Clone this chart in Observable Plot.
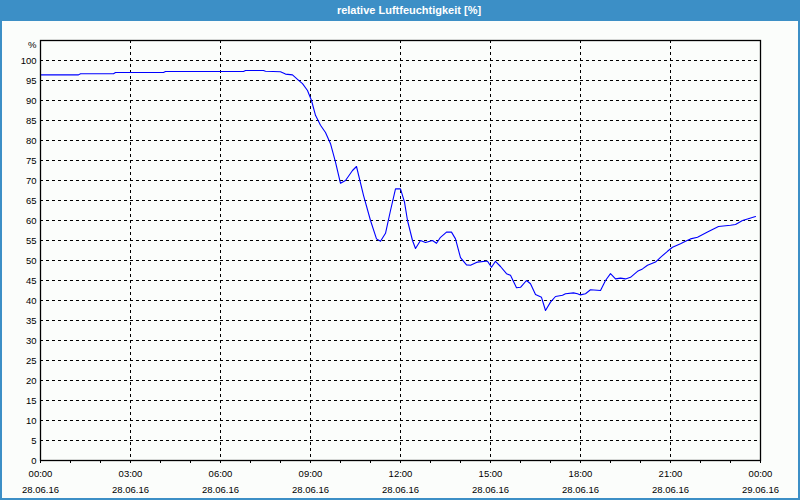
<!DOCTYPE html>
<html><head><meta charset="utf-8">
<script src="https://cdn.jsdelivr.net/npm/d3@7"></script>
<script src="https://cdn.jsdelivr.net/npm/@observablehq/plot@0.6"></script>
<style>
body{margin:0;background:#fff;}
#wrap{position:relative;width:800px;height:500px;background:#fbfdfb;overflow:hidden;font-family:"Liberation Sans",Arial,sans-serif;}
#title{height:21px;line-height:20px;background:#3c8fc6;color:#fff;font-weight:bold;font-size:11px;text-align:center;padding-left:18px;box-sizing:border-box;}
#border{position:absolute;left:0;top:0;width:800px;height:500px;box-sizing:border-box;border:2px solid #3c8fc6;pointer-events:none;}
#chart svg{display:block;}
</style></head>
<body>
<div id="wrap">
  <div id="title">relative Luftfeuchtigkeit [%]</div>
  <div id="chart"></div>
  <div id="border"></div>
</div>
<script>
const title = "relative Luftfeuchtigkeit [%]";
const yLabel = "%";
const day = "2016-06-28";
const times = ["00:00","01:16","01:20","02:26","02:30","04:06","04:10","06:46","06:50","07:26","07:30","08:00","08:10","08:24","08:34","08:44","08:54","09:02","09:10","09:20","09:30","09:40","09:50","10:00","10:10","10:24","10:32","10:46","11:00","11:12","11:20","11:30","11:40","11:50","12:00","12:08","12:14","12:24","12:30","12:40","12:50","13:04","13:12","13:20","13:32","13:42","13:50","14:00","14:12","14:20","14:34","14:50","14:54","15:02","15:10","15:20","15:32","15:40","15:52","16:00","16:12","16:20","16:30","16:42","16:50","17:00","17:10","17:24","17:30","17:46","17:54","18:00","18:10","18:20","18:40","18:50","19:00","19:10","19:20","19:30","19:40","19:54","20:04","20:14","20:30","20:40","20:54","21:04","21:20","21:30","21:40","21:54","22:14","22:26","22:36","23:00","23:10","23:24","23:34","23:50"];
const values = [96.4,96.4,96.7,96.7,97.0,97.0,97.25,97.25,97.5,97.5,97.3,97.2,96.6,96.4,95.3,94.2,92.5,90.0,86.3,83.8,82.0,79.2,74.6,69.3,70.0,72.5,73.5,66.3,60.0,55.4,54.8,56.8,62.5,67.9,67.9,64.6,60.0,55.0,53.0,55.0,54.5,55.0,54.3,55.8,57.1,57.1,55.4,50.7,48.9,48.8,49.6,49.8,49.8,48.3,49.8,48.5,46.7,46.3,43.2,43.3,45.0,44.2,41.5,40.8,37.5,39.6,41.0,41.3,41.7,41.9,41.7,41.4,41.7,42.7,42.5,45.0,46.7,45.4,45.6,45.4,45.8,47.3,47.9,48.8,49.6,50.8,52.3,53.3,54.2,54.8,55.4,55.8,57.1,57.9,58.5,58.8,59.0,60.0,60.4,61.0];
const yTicks = [0,5,10,15,20,25,30,35,40,45,50,55,60,65,70,75,80,85,90,95,100];
const xTickLabels = ["2016-06-28 00:00","2016-06-28 03:00","2016-06-28 06:00","2016-06-28 09:00","2016-06-28 12:00","2016-06-28 15:00","2016-06-28 18:00","2016-06-28 21:00","2016-06-29 00:00"];

const parse = d3.timeParse("%Y-%m-%d %H:%M");
const data = times.map((t, i) => ({date: parse(day + " " + t), value: values[i]}));
const xMajor = xTickLabels.map(parse);
const xStart = xMajor[0], xEnd = xMajor[xMajor.length - 1];
const xMinor = d3.timeHour.range(xStart, d3.timeHour.offset(xEnd, 1));

const chart = Plot.plot({
  width: 800,
  height: 479,
  marginTop: 19,
  marginLeft: 40,
  marginRight: 40,
  marginBottom: 40,
  style: {fontFamily: '"Liberation Sans", Arial, sans-serif', fontSize: "9.5px", background: "transparent", color: "#000", overflow: "visible"},
  x: {type: "time", domain: [xStart, xEnd]},
  y: {domain: [0, 105]},
  marks: [
    Plot.gridY(yTicks, {stroke: "#000", strokeOpacity: 1, strokeWidth: 1, strokeDasharray: "3,3"}),
    Plot.gridX(xMajor, {stroke: "#000", strokeOpacity: 1, strokeWidth: 1, strokeDasharray: "3,3"}),
    Plot.line(data, {x: "date", y: "value", stroke: "#0000ff", strokeWidth: 1.1}),
    Plot.frame({stroke: "#000", strokeWidth: 1.3}),
    Plot.axisY(yTicks, {tickSize: 0, tickPadding: 4, label: null, fontSize: 9.5}),
    Plot.axisX(xMinor, {tickSize: 3, tickFormat: () => "", label: null}),
    Plot.axisX(xMajor, {tickSize: 0, tickPadding: 10, tickFormat: d3.timeFormat("%H:%M"), label: null, fontSize: 9.5}),
    Plot.axisX(xMajor, {tickSize: 0, tickPadding: 26, tickFormat: d3.timeFormat("%d.%m.%y"), label: null, fontSize: 9.5}),
    Plot.text([yLabel], {frameAnchor: "top-left", dx: -4, dy: 4, lineAnchor: "middle", textAnchor: "end", fontSize: 9.5})
  ]
});
document.getElementById("chart").appendChild(chart);
</script>
</body></html>
